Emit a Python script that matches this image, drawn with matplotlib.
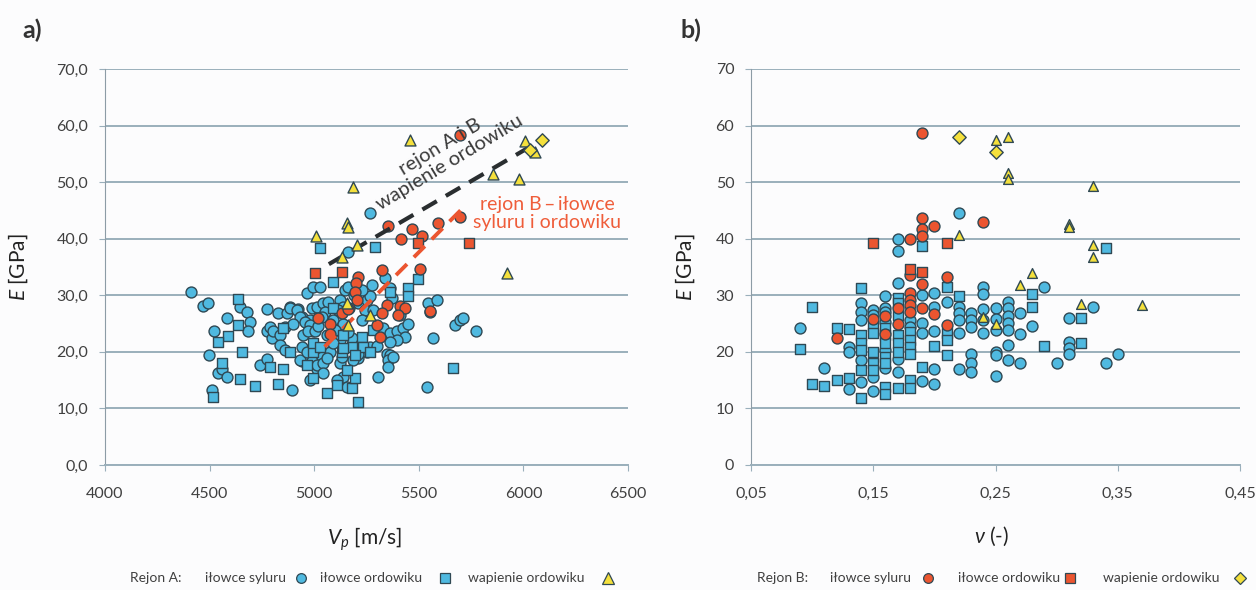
import matplotlib
matplotlib.use('Agg')
import matplotlib.pyplot as plt
from matplotlib.lines import Line2D

plt.rcParams['font.family'] = ['Lato', 'DejaVu Sans']
plt.rcParams['mathtext.fontset'] = 'custom'
plt.rcParams['mathtext.rm'] = 'Lato'
plt.rcParams['mathtext.it'] = 'Lato:italic'

# ---- panel a) : Vp [m/s] vs E [GPa] ----
# Rejon A - ilowce syluru (blue circles)
a_syl_x = [4410, 4470, 4494, 4582, 4645, 4677, 4693, 4685, 4522, 4499, 4542, 4558, 4582, 4510,
           4773, 4773, 4797, 4741, 4773, 4828, 4868, 4884, 4924, 4789, 4805, 4836, 4836, 4860,
           4940, 4972, 4892, 4964, 4996, 4940, 4980, 4948, 4996, 4932, 5012, 4980, 5028, 4884,
           4916, 4988, 5012, 5044, 5068, 5052, 5036, 4932, 4956, 4980, 4972, 5004, 4940, 4964,
           5020, 5036, 5068, 5076, 4988, 5012, 5044, 5059, 5044, 5123, 5139, 5115, 5091, 5139,
           5099, 5123, 5211, 5251, 5267, 5243, 5282, 5227, 5275, 5338, 5362, 5370, 5315, 5330,
           5362, 5394, 5426, 5434, 5394, 5362, 5267, 5251, 5211, 5219, 5346, 5362, 5354, 5378,
           5306, 5123, 5131, 5211, 5187, 5546, 5586, 5554, 5566, 5538, 5147, 5163, 5673, 5697,
           5713, 5773, 5267, 5163, 5139, 5155, 5107, 5354, 5020, 5060, 5180, 5300, 5410, 5450,
           5230, 5190, 4860, 4900, 5090, 5160]
a_syl_y = [30.5, 28.1, 28.7, 25.9, 28.0, 27.1, 25.2, 23.6, 23.7, 19.4, 16.3, 16.9, 15.5, 13.3,
           27.5, 23.6, 22.4, 17.7, 18.7, 26.8, 26.9, 28.0, 27.5, 24.4, 23.6, 23.0, 21.2, 20.3,
           18.3, 18.3, 13.3, 30.4, 31.4, 26.2, 25.6, 23.0, 23.6, 18.6, 16.9, 15.0, 31.4, 27.7,
           27.4, 27.7, 28.0, 28.6, 28.9, 27.1, 26.2, 26.2, 25.3, 24.7, 23.6, 23.6, 20.9, 20.0,
           19.7, 19.1, 20.9, 20.0, 18.3, 17.7, 18.0, 18.9, 16.2, 29.2, 28.0, 27.4, 25.6, 25.0,
           23.9, 22.1, 28.6, 29.2, 29.8, 27.4, 27.4, 25.6, 31.8, 33.0, 31.2, 29.5, 23.9, 24.2,
           23.3, 23.6, 24.2, 22.7, 22.1, 21.8, 20.9, 20.0, 18.9, 20.6, 19.7, 19.4, 18.6, 19.1,
           15.6, 18.0, 19.1, 19.7, 18.6, 28.6, 29.2, 27.1, 22.4, 13.8, 30.9, 31.5, 24.7, 25.6,
           25.9, 23.7, 44.5, 37.7, 15.6, 13.8, 15.0, 17.4, 24.5, 23.0, 22.5, 21.0, 26.5, 25.0,
           31.0, 30.0, 24.4, 25.0, 21.5, 23.5]
# Rejon A - ilowce ordowiku (blue squares)
a_ord_x = [4637, 4637, 4589, 4542, 4653, 4558, 4645, 4717, 4828, 4518, 4789, 4852, 4852, 4884,
           4964, 4996, 4996, 4996, 5028, 5091, 5291, 5498, 5450, 5450, 5362, 5091, 5139, 5179,
           5227, 5235, 5267, 5131, 5028, 5059, 5107, 5179, 5195, 5155, 5211, 5665, 5282, 5195,
           5139]
a_ord_y = [29.3, 24.7, 22.8, 21.8, 20.0, 18.0, 15.2, 14.0, 14.3, 12.0, 17.4, 16.9, 24.2, 20.0,
           17.7, 20.0, 15.3, 21.5, 38.3, 32.4, 38.6, 32.9, 31.2, 29.8, 30.6, 27.7, 23.0, 20.9,
           22.7, 20.9, 20.0, 20.0, 20.9, 12.8, 14.1, 13.6, 15.3, 16.8, 11.2, 17.1, 23.9, 19.4,
           20.6]
# Rejon A - wapienie ordowiku (yellow triangles)
a_wap_x = [5458, 5187, 5155, 5163, 5009, 5203, 5131, 5856, 5981, 6008, 6056, 5923, 5267, 5163, 5155]
a_wap_y = [57.5, 49.2, 42.7, 42.1, 40.5, 38.9, 36.8, 51.4, 50.5, 57.3, 55.4, 34.0, 26.5, 24.7, 28.6]
# Rejon B - ilowce syluru (red circles)
b_syl_x = [5697, 5354, 5466, 5514, 5593, 5697, 5416, 5506, 5322, 5211, 5200, 5195, 5203, 5168,
           5131, 5020, 5076, 5076, 5346, 5410, 5434, 5322, 5402, 5299, 5315, 5554, 5163]
b_syl_y = [58.3, 42.2, 41.8, 40.5, 42.8, 43.9, 39.9, 34.6, 34.5, 33.3, 32.1, 30.6, 29.2, 27.7,
           26.8, 25.9, 25.0, 23.1, 28.3, 28.1, 27.7, 26.8, 26.5, 24.7, 22.7, 27.2, 27.5]
# Rejon B - ilowce ordowiku (red squares)
b_ord_x = [5004, 5131, 5498, 5742]
b_ord_y = [33.9, 34.2, 39.2, 39.3]
# Rejon B - wapienie ordowiku (yellow diamonds)
b_wap_x = [6088, 6030]
b_wap_y = [57.5, 55.6]

# trend lines (start/end points)
line_ab_x = [5070, 6080]
line_ab_y = [35.5, 57.3]
line_b_x = [5050, 5710]
line_b_y = [20.9, 45.4]

# ---- panel b) : nu [-] vs E [GPa] ----
nb_a_syl_x = [.09, .11, .13, .13, .13, .14, .14, .14, .14, .14, .15, .15, .15, .15,
              .16, .16, .16, .16, .16, .16, .17, .17, .17, .17, .17, .18, .18, .19,
              .19, .19, .19, .20, .20, .20, .20, .20, .21, .22, .22, .22, .22, .22,
              .22, .23, .23, .23, .23, .23, .23, .24, .24, .24, .24, .24, .25, .25,
              .25, .25, .25, .25, .26, .26, .26, .26, .26, .26, .26, .27, .27, .27,
              .28, .29, .30, .31, .31, .31, .31, .33, .34, .35]
nb_a_syl_y = [24.2, 17.1, 20.9, 20.0, 13.4, 28.6, 27.0, 25.6, 18.5, 14.7, 27.4, 26.5, 15.6, 13.0,
              29.8, 27.7, 27.1, 25.3, 20.3, 17.1, 40.0, 37.9, 32.1, 18.8, 16.4, 25.6, 24.4, 30.0,
              25.1, 23.3, 14.9, 30.4, 27.9, 23.6, 16.9, 14.3, 28.9, 44.5, 28.0, 26.8, 25.6, 23.3,
              17.0, 26.8, 25.6, 24.4, 19.7, 18.1, 16.4, 31.4, 30.3, 27.6, 25.6, 23.4, 27.8, 25.8,
              23.9, 20.0, 19.4, 15.8, 28.9, 27.8, 26.3, 25.1, 23.9, 21.2, 18.6, 26.8, 23.1, 18.1,
              24.5, 31.4, 18.1, 25.9, 21.8, 20.6, 19.6, 27.9, 18.0, 19.6]
nb_a_ord_x = [.09, .10, .10, .11, .12, .12, .13, .13, .14, .14, .14, .14, .14, .14,
              .15, .15, .15, .15, .15, .16, .16, .16, .16, .16, .16, .16, .17, .17,
              .17, .17, .17, .17, .17, .18, .18, .18, .18, .18, .18, .19, .19, .20,
              .21, .21, .21, .21, .22, .28, .28, .29, .32, .32, .34]
nb_a_ord_y = [20.5, 28.0, 14.4, 14.0, 24.2, 15.0, 24.0, 15.3, 31.2, 23.0, 21.5, 20.3, 16.8, 11.9,
              24.5, 23.3, 19.9, 18.0, 16.8, 24.2, 23.0, 21.5, 19.1, 18.0, 13.8, 12.6, 29.6, 28.6,
              26.5, 23.0, 21.5, 20.0, 13.6, 23.5, 22.1, 20.9, 19.6, 15.0, 13.6, 38.7, 17.4, 21.1,
              31.4, 23.3, 22.1, 19.4, 29.8, 30.2, 28.0, 21.1, 25.9, 21.6, 38.3]
nb_a_wap_x = [.22, .25, .26, .26, .26, .31, .31, .33, .33, .33, .32, .37, .28, .27, .24, .25]
nb_a_wap_y = [40.7, 57.5, 57.9, 51.7, 50.5, 42.6, 42.0, 49.3, 38.9, 36.8, 28.5, 28.3, 34.0, 31.8, 26.2, 24.9]
nb_b_syl_x = [.12, .15, .16, .16, .17, .17, .18, .18, .18, .18, .18, .18, .19, .19,
              .19, .19, .19, .19, .20, .20, .21, .21, .24]
nb_b_syl_y = [22.4, 25.8, 26.3, 23.1, 27.7, 25.0, 39.9, 33.6, 30.4, 29.1, 28.2, 27.1, 58.6, 43.6,
              41.8, 40.5, 32.0, 27.7, 42.3, 26.7, 33.3, 24.8, 42.9]
nb_b_ord_x = [.15, .21, .18, .19]
nb_b_ord_y = [39.2, 39.3, 34.6, 34.1]
nb_b_wap_x = [.22, .25]
nb_b_wap_y = [58.0, 55.4]

a_xticks = [4000, 4500, 5000, 5500, 6000, 6500]
a_yticks = [0, 10, 20, 30, 40, 50, 60, 70]
a_ylabels = ['0,0', '10,0', '20,0', '30,0', '40,0', '50,0', '60,0', '70,0']
b_xticks = [0.05, 0.15, 0.25, 0.35, 0.45]
b_xlabels = ['0,05', '0,15', '0,25', '0,35', '0,45']
b_yticks = [0, 10, 20, 30, 40, 50, 60, 70]

blue = '#4fb9e0'
red = '#eb5530'
yellow = '#f4e03c'
edge = '#2f4853'
gridc = '#9aafbb'
txt = '#404040'
bg = '#fcfcfd'

fig = plt.figure(figsize=(12.56, 5.9), dpi=100, facecolor=bg)
ax1 = fig.add_axes([105/1256, 1-465/590, 523/1256, 396/590], facecolor=bg)
ax2 = fig.add_axes([751/1256, 1-465/590, 489/1256, 396/590], facecolor=bg)

ms = 62
kw = dict(edgecolors=edge, linewidths=1.0)


def style(ax):
    ax.grid(axis='y', color=gridc, lw=1.4)
    ax.set_axisbelow(True)
    for s in ['top', 'right']:
        ax.spines[s].set_visible(False)
    ax.spines['left'].set_color('#8d9ca6')
    ax.spines['bottom'].set_color(gridc)
    ax.spines['bottom'].set_linewidth(1.4)
    ax.tick_params(axis='y', length=4, color=gridc, labelsize=11.5, labelcolor=txt, pad=8)
    ax.tick_params(axis='x', length=4, color=gridc, labelsize=11.5, labelcolor=txt, pad=12)


# panel a
ax1.scatter(a_syl_x, a_syl_y, s=ms, marker='o', c=blue, zorder=3, **kw)
ax1.scatter(a_ord_x, a_ord_y, s=ms*0.9, marker='s', c=blue, zorder=3, **kw)
ax1.scatter(b_syl_x, b_syl_y, s=ms, marker='o', c=red, zorder=4, **kw)
ax1.scatter(b_ord_x, b_ord_y, s=ms*0.9, marker='s', c=red, zorder=4, **kw)
ax1.plot(line_ab_x, line_ab_y, color='#2a2e30', lw=3, ls=(0, (4, 2.5)), zorder=5)
ax1.plot(line_b_x, line_b_y, color=red, lw=2.8, ls=(0, (4, 2.5)), zorder=5)
ax1.scatter(a_wap_x, a_wap_y, s=ms, marker='^', c=yellow, zorder=6, **kw)
ax1.scatter(b_wap_x, b_wap_y, s=ms*0.75, marker='D', c=yellow, zorder=6, **kw)
ax1.text(5625, 54.8, 'rejon A i B\nwapienie ordowiku', rotation=31, ha='center', va='center',
         rotation_mode='anchor', multialignment='center', fontsize=14.5, color='#3a3a3a',
         linespacing=1.1, zorder=7)
ax1.text(6115, 44.5, 'rejon B\u2009\u2013\u2009iłowce\nsyluru i ordowiku', ha='center', va='center',
         multialignment='center', fontsize=14, color='#ef5d3a', linespacing=1.05, zorder=7)

ax1.set_xlim(4000, 6500)
ax1.set_ylim(0, 70)
ax1.set_xticks(a_xticks)
ax1.set_yticks(a_yticks)
ax1.set_yticklabels(a_ylabels)
style(ax1)
ax1.set_ylabel('$E$ [GPa]', fontsize=15, color='#222222')
ax1.yaxis.set_label_coords(-0.143, 0.5)
ax1.set_xlabel('$V_p$ [m/s]', fontsize=15, color='#222222')
ax1.xaxis.set_label_coords(0.497, -0.152)

# panel b
ax2.scatter(nb_a_syl_x, nb_a_syl_y, s=ms, marker='o', c=blue, zorder=3, **kw)
ax2.scatter(nb_a_ord_x, nb_a_ord_y, s=ms*0.9, marker='s', c=blue, zorder=3, **kw)
ax2.scatter(nb_b_syl_x, nb_b_syl_y, s=ms, marker='o', c=red, zorder=4, **kw)
ax2.scatter(nb_b_ord_x, nb_b_ord_y, s=ms*0.9, marker='s', c=red, zorder=4, **kw)
ax2.scatter(nb_a_wap_x, nb_a_wap_y, s=ms*0.8, marker='^', c=yellow, zorder=6, **kw)
ax2.scatter(nb_b_wap_x, nb_b_wap_y, s=ms*0.75, marker='D', c=yellow, zorder=6, **kw)
ax2.set_xlim(0.05, 0.45)
ax2.set_ylim(0, 70)
ax2.set_xticks(b_xticks)
ax2.set_xticklabels(b_xlabels)
ax2.set_yticks(b_yticks)
style(ax2)
ax2.set_ylabel('$E$ [GPa]', fontsize=15, color='#222222')
ax2.yaxis.set_label_coords(-0.11, 0.5)
ax2.set_xlabel(r'$\nu$ (-)', fontsize=15, color='#222222')
ax2.xaxis.set_label_coords(0.493, -0.152)

fig.text(22/1256, 1-30/590, 'a)', fontsize=18, fontweight='bold', color='#333333', va='center')
fig.text(680/1256, 1-30/590, 'b)', fontsize=18, fontweight='bold', color='#333333', va='center')

# legends along the bottom
ly = 1 - 578/590
lfs = 10


def leg_marker(x, marker, color, size):
    fig.add_artist(Line2D([x/1256], [ly], marker=marker, markersize=size, color=color,
                          markeredgecolor=edge, markeredgewidth=0.9, ls='none',
                          transform=fig.transFigure))


fig.text(130/1256, ly, 'Rejon A:', fontsize=lfs, color=txt, va='center')
fig.text(205/1256, ly, 'iłowce syluru', fontsize=lfs, color=txt, va='center')
leg_marker(301, 'o', blue, 7)
fig.text(320/1256, ly, 'iłowce ordowiku', fontsize=lfs, color=txt, va='center')
leg_marker(445, 's', blue, 7)
fig.text(468/1256, ly, 'wapienie ordowiku', fontsize=lfs, color=txt, va='center')
leg_marker(608, '^', yellow, 8)

fig.text(757/1256, ly, 'Rejon B:', fontsize=lfs, color=txt, va='center')
fig.text(830/1256, ly, 'iłowce syluru', fontsize=lfs, color=txt, va='center')
leg_marker(928, 'o', red, 7)
fig.text(958/1256, ly, 'iłowce ordowiku', fontsize=lfs, color=txt, va='center')
leg_marker(1070, 's', red, 7)
fig.text(1103/1256, ly, 'wapienie ordowiku', fontsize=lfs, color=txt, va='center')
leg_marker(1240, 'D', yellow, 6.5)

fig.savefig('out.png', dpi=100, facecolor=bg)
